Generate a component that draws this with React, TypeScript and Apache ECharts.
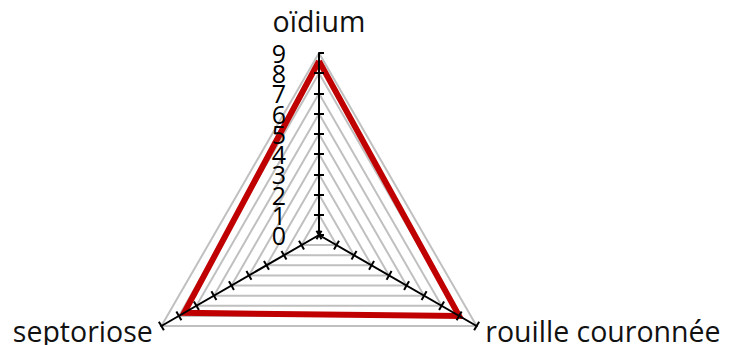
import React, { useEffect, useRef } from 'react';
import * as echarts from 'echarts';

const indicatorNames = ['oïdium', 'septoriose', 'rouille couronnée'];
const axisMin = 0;
const axisMax = 9;
const seriesValues = [8.6, 7.7, 8.0];

export default function App() {
  const ref = useRef<HTMLDivElement>(null);
  useEffect(() => {
    const chart = echarts.init(ref.current!, null, { renderer: 'svg' });
    const base = {
      center: [319, 235],
      radius: 182,
      startAngle: 90,
      shape: 'polygon',
      splitNumber: 9,
      splitArea: { show: false },
    };
    const font = 'Open Sans';
    const labelStyle = {
      show: false,
      interval: 0,
      color: '#000',
      fontSize: 25,
      fontFamily: font,
      margin: 33,
    };
    const option: any = {
      animation: false,
      radar: [
        {
          ...base,
          z: 0,
          indicator: indicatorNames.map((n) => ({ name: n, min: axisMin, max: axisMax })),
          axisName: { show: false },
          axisLine: { show: false },
          axisTick: { show: false },
          axisLabel: { show: false },
          splitLine: { show: true, lineStyle: { color: '#c0c0c0', width: 2 } },
        },
        {
          ...base,
          z: 5,
          indicator: indicatorNames.map((n, i) => ({
            name: n,
            min: axisMin,
            max: axisMax,
            nameGap: i === 0 ? 18 : 10,
            axisLabel: { show: i === 0 },
          })),
          nameGap: 10,
          axisName: { show: true, color: '#111', fontSize: 28.5, fontFamily: font },
          axisLine: { show: true, lineStyle: { color: '#000', width: 2 } },
          axisTick: { show: true, length: 5, lineStyle: { color: '#000', width: 2 } },
          axisLabel: { ...labelStyle, showMinLabel: false, showMaxLabel: false },
          splitLine: { show: false },
        },
        {
          ...base,
          z: 5,
          indicator: indicatorNames.map((n, i) => ({
            name: n,
            min: axisMin,
            max: axisMax,
            axisLabel: { show: i === 0 },
          })),
          axisName: { show: false },
          axisLine: { show: false },
          axisTick: { show: true, length: -5, lineStyle: { color: '#000', width: 2 } },
          axisLabel: {
            ...labelStyle,
            showMinLabel: true,
            showMaxLabel: true,
            formatter: (v: number) => (v === axisMin || v === axisMax ? String(v) : ''),
          },
          splitLine: { show: false },
        },
      ],
      series: [
        {
          type: 'radar',
          radarIndex: 0,
          z: 2,
          symbol: 'none',
          data: [
            {
              value: seriesValues,
              lineStyle: { color: '#c00000', width: 6, join: 'miter', miterLimit: 10 },
            },
          ],
        },
      ],
    };
    chart.setOption(option);
    return () => chart.dispose();
  }, []);
  return (
    <div
      ref={ref}
      style={{ position: 'absolute', left: 0, top: 0, width: 742, height: 345, background: '#fff' }}
    />
  );
}
